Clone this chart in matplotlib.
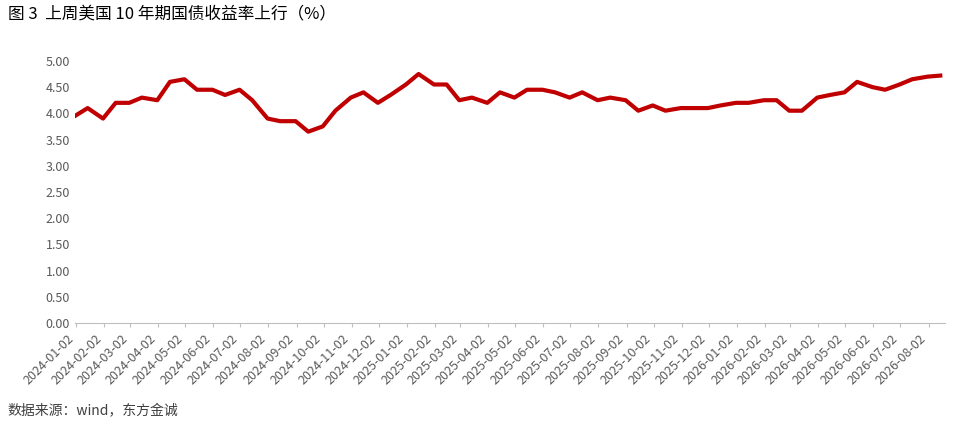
import matplotlib
matplotlib.use('Agg')
import matplotlib.pyplot as plt
import pandas as pd

plt.rcParams['font.family'] = ['Noto Sans CJK SC', 'DejaVu Sans']

# 半月取值 (每月1日、16日)
dates = pd.date_range('2024-01-01', '2026-08-16', freq='SMS')
yields = [
    3.95, 4.10, 3.90, 4.20, 4.20, 4.30, 4.25, 4.60, 4.65, 4.45, 4.45, 4.35,
    4.45, 4.25, 3.90, 3.85, 3.85, 3.65, 3.75, 4.05, 4.30, 4.40, 4.20, 4.35,
    4.55, 4.75, 4.55, 4.55, 4.25, 4.30, 4.20, 4.40, 4.30, 4.45, 4.45, 4.40,
    4.30, 4.40, 4.25, 4.30, 4.25, 4.05, 4.15, 4.05, 4.10, 4.10, 4.10, 4.15,
    4.20, 4.20, 4.25, 4.25, 4.05, 4.05, 4.30, 4.35, 4.40, 4.60, 4.50, 4.45,
    4.55, 4.65, 4.70, 4.72,
]
tick_dates = pd.date_range('2024-01-01', '2026-08-01', freq='MS') + pd.Timedelta(days=1)

fig = plt.figure(figsize=(9.74, 4.26), dpi=100)
ax = fig.add_axes([0.077, 0.242, 0.893, 0.615])
ax.plot(dates, yields, color='#C00000', linewidth=3)
ax.set_ylim(0, 5)
ax.set_yticks([i * 0.5 for i in range(11)])
ax.set_yticklabels([f'{i * 0.5:.2f}' for i in range(11)])
ax.set_xlim(pd.Timestamp('2024-01-01'), pd.Timestamp('2026-08-20'))
ax.set_xticks(tick_dates)
ax.set_xticklabels([d.strftime('%Y-%m-%d') for d in tick_dates], rotation=45, ha='right')
for s in ['top', 'right', 'left']:
    ax.spines[s].set_visible(False)
ax.spines['bottom'].set_color('#BFBFBF')
ax.tick_params(axis='y', length=0, labelsize=9, colors='#595959')
ax.tick_params(axis='x', length=3, color='#BFBFBF', labelsize=9, colors='#595959')

fig.text(0.008, 0.965, '图 3  上周美国 10 年期国债收益率上行（%）', fontsize=12, va='center')
fig.text(0.008, 0.035, '数据来源：wind，东方金诚', fontsize=10, va='center', color='#404040')
fig.savefig('out.png', dpi=100)
